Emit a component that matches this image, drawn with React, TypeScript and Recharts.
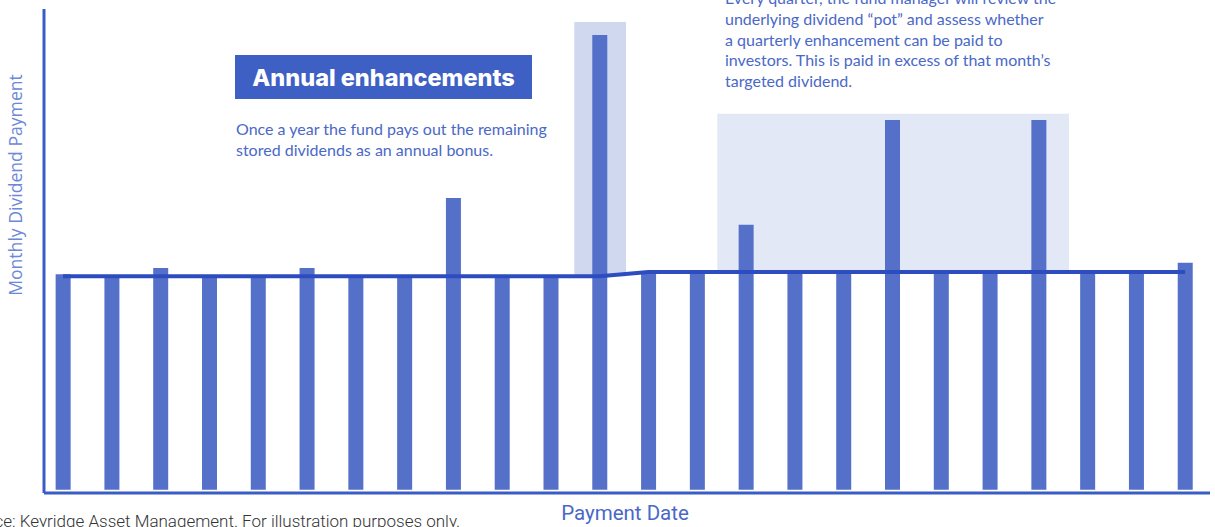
import React from 'react';
import { ComposedChart, Bar, Line, XAxis, YAxis, ReferenceArea } from 'recharts';

// 24 monthly payments, illustrative units
const months = Array.from({ length: 24 }, (_, i) => i);
const payments = [44.8, 44.2, 46.1, 44.2, 44.2, 46.1, 44.2, 44.2, 60.7, 44.2, 44.2, 94.6,
  45.5, 45.5, 55.1, 45.7, 45.7, 76.9, 45.7, 45.7, 76.9, 45.7, 45.7, 47.2];
const targetDividend = [44.4, 44.4, 44.4, 44.4, 44.4, 44.4, 44.4, 44.4, 44.4, 44.4, 44.4, 44.4,
  45.3, 45.3, 45.3, 45.3, 45.3, 45.3, 45.3, 45.3, 45.3, 45.3, 45.3, 45.3];

const quarterlyText = [
  'Every quarter, the fund manager will review the',
  'underlying dividend \u201cpot\u201d and assess whether',
  'a quarterly enhancement can be paid to',
  'investors. This is paid in excess of that month\u2019s',
  'targeted dividend.',
];
const annualText = ['Once a year the fund pays out the remaining', 'stored dividends as an annual bonus.'];

const data = months.map((m, i) => ({ month: m, payment: payments[i], target: targetDividend[i] }));

const BAR = '#5470c9';
const AXIS = '#3a5cc6';
const NOTE = '#4a68c8';

const noteStyle: React.CSSProperties = {
  position: 'absolute',
  fontFamily: 'Lato, sans-serif',
  fontSize: 16,
  lineHeight: '20.8px',
  color: NOTE,
  whiteSpace: 'nowrap',
};

const App: React.FC = () => {
  return (
    <div style={{ position: 'absolute', left: 0, top: 0, width: 1215, height: 527, overflow: 'hidden', background: '#fff' }}>
      <ComposedChart width={1215} height={527} data={data} margin={{ top: 9, right: 5, bottom: 33, left: 43 }}>
        <XAxis
          type="number"
          dataKey="month"
          domain={[-0.39, 23.51]}
          allowDataOverflow
          height={1}
          tick={false}
          tickLine={false}
          axisLine={{ stroke: AXIS, strokeWidth: 3 }}
        />
        <YAxis
          domain={[-0.7, 100]}
          allowDataOverflow
          width={1}
          tick={false}
          tickLine={false}
          axisLine={{ stroke: AXIS, strokeWidth: 3 }}
        />
        <ReferenceArea x1={10.48} x2={11.54} y1={44.4} y2={97.3} fill="#cfd8ef" fillOpacity={1} stroke="none" />
        <ReferenceArea x1={13.41} x2={20.62} y1={45.7} y2={78.2} fill="#e2e8f6" fillOpacity={1} stroke="none" />
        <Bar dataKey="payment" fill={BAR} barSize={15} isAnimationActive={false} />
        <Line dataKey="target" type="linear" stroke="#2c4cc0" strokeWidth={4} dot={false} isAnimationActive={false} />
      </ComposedChart>

      <div
        style={{
          position: 'absolute', left: 15, top: 185, transform: 'translate(-50%, -50%) rotate(-90deg)',
          fontFamily: '"Open Sans", sans-serif', fontSize: 17.6, color: '#6d88d8', whiteSpace: 'nowrap',
        }}
      >
        Monthly Dividend Payment
      </div>

      <div
        style={{
          position: 'absolute', left: 625, top: 513, transform: 'translate(-50%, -50%)',
          fontFamily: 'Roboto, sans-serif', fontSize: 20.5, color: NOTE, whiteSpace: 'nowrap',
        }}
      >
        Payment Date
      </div>

      <div
        style={{
          position: 'absolute', left: -40, top: 512, fontFamily: 'Roboto, sans-serif', fontWeight: 300,
          fontSize: 17, color: '#333', whiteSpace: 'nowrap', lineHeight: '18px',
        }}
      >
        Source: Keyridge Asset Management. For illustration purposes only.
      </div>

      <div
        style={{
          position: 'absolute', left: 235, top: 55, width: 297, height: 44, background: '#3e5fc4',
          color: '#fff', fontFamily: 'Inter, sans-serif', fontWeight: 800, fontSize: 23.5,
          display: 'flex', alignItems: 'center', justifyContent: 'center',
        }}
      >
        Annual enhancements
      </div>

      <div style={{ ...noteStyle, left: 236, top: 119 }}>
        {annualText.map((t) => <div key={t}>{t}</div>)}
      </div>

      <div style={{ ...noteStyle, left: 725, top: -12 }}>
        {quarterlyText.map((t) => <div key={t}>{t}</div>)}
      </div>
    </div>
  );
};

export default App;
